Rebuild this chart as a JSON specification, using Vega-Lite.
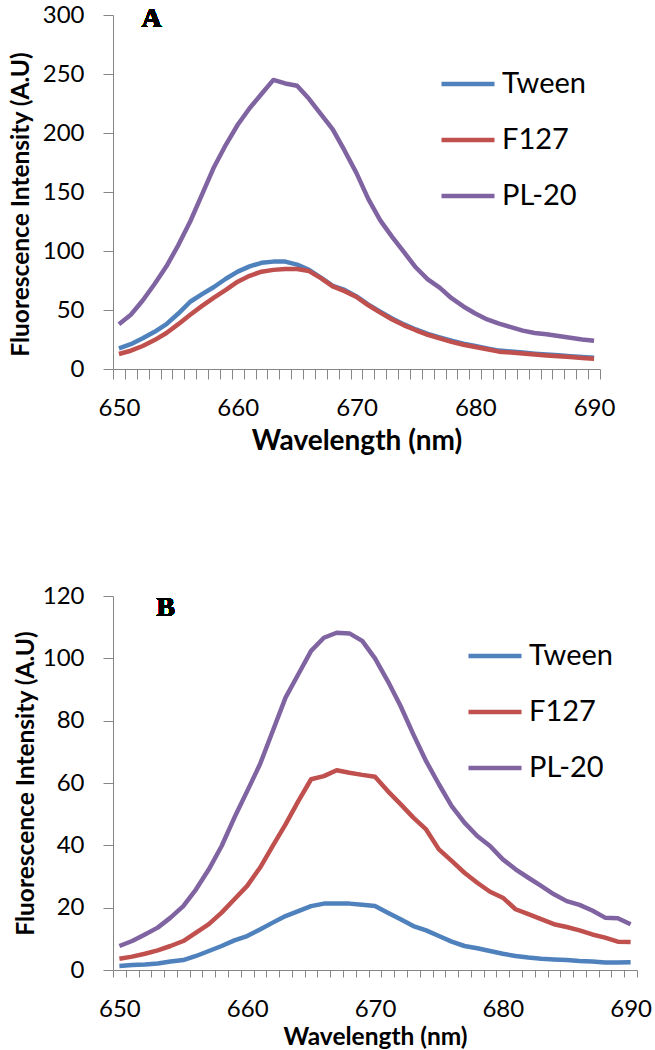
{
  "$schema": "https://vega.github.io/schema/vega-lite/v6.json",
  "padding": {"left": 8, "top": 3, "right": 0, "bottom": 0},
  "background": "white",
  "spacing": 129,
  "resolve": {"legend": {"color": "independent"}, "scale": {"x": "independent", "y": "independent", "color": "independent"}},
  "datasets": {
    "a": [
      {"wl": 650, "Tween": 17.5, "F127": 12.7, "PL-20": 38},
      {"wl": 651, "Tween": 21, "F127": 15.5, "PL-20": 46},
      {"wl": 652, "Tween": 26, "F127": 19.5, "PL-20": 58},
      {"wl": 653, "Tween": 31.5, "F127": 24.5, "PL-20": 72},
      {"wl": 654, "Tween": 38, "F127": 30.5, "PL-20": 87},
      {"wl": 655, "Tween": 47, "F127": 38, "PL-20": 105},
      {"wl": 656, "Tween": 57, "F127": 46, "PL-20": 125},
      {"wl": 657, "Tween": 63.5, "F127": 53.5, "PL-20": 148},
      {"wl": 658, "Tween": 69.5, "F127": 60.5, "PL-20": 171},
      {"wl": 659, "Tween": 76.5, "F127": 67, "PL-20": 190},
      {"wl": 660, "Tween": 82.5, "F127": 74, "PL-20": 207},
      {"wl": 661, "Tween": 87, "F127": 79, "PL-20": 221},
      {"wl": 662, "Tween": 90, "F127": 82.5, "PL-20": 233},
      {"wl": 663, "Tween": 91, "F127": 84, "PL-20": 245},
      {"wl": 664, "Tween": 91, "F127": 84.7, "PL-20": 242},
      {"wl": 665, "Tween": 88.5, "F127": 84.7, "PL-20": 240},
      {"wl": 666, "Tween": 84, "F127": 83, "PL-20": 229},
      {"wl": 667, "Tween": 77.5, "F127": 77, "PL-20": 216},
      {"wl": 668, "Tween": 70.5, "F127": 70, "PL-20": 203},
      {"wl": 669, "Tween": 67, "F127": 66, "PL-20": 185},
      {"wl": 670, "Tween": 61.5, "F127": 61, "PL-20": 166},
      {"wl": 671, "Tween": 54.5, "F127": 54, "PL-20": 144},
      {"wl": 672, "Tween": 48.5, "F127": 47.8, "PL-20": 126},
      {"wl": 673, "Tween": 42.8, "F127": 42, "PL-20": 112},
      {"wl": 674, "Tween": 37.8, "F127": 37, "PL-20": 99},
      {"wl": 675, "Tween": 33.5, "F127": 32.8, "PL-20": 86},
      {"wl": 676, "Tween": 29.8, "F127": 29, "PL-20": 76},
      {"wl": 677, "Tween": 26.8, "F127": 26, "PL-20": 69},
      {"wl": 678, "Tween": 24, "F127": 23, "PL-20": 60},
      {"wl": 679, "Tween": 21.5, "F127": 20.6, "PL-20": 53},
      {"wl": 680, "Tween": 19.5, "F127": 18.7, "PL-20": 47},
      {"wl": 681, "Tween": 17.5, "F127": 16.7, "PL-20": 42},
      {"wl": 682, "Tween": 15.6, "F127": 14.7, "PL-20": 38.5},
      {"wl": 683, "Tween": 14.8, "F127": 13.9, "PL-20": 35.5},
      {"wl": 684, "Tween": 13.9, "F127": 13.1, "PL-20": 32.5},
      {"wl": 685, "Tween": 13, "F127": 12.2, "PL-20": 30.5},
      {"wl": 686, "Tween": 12.3, "F127": 11.5, "PL-20": 29.5},
      {"wl": 687, "Tween": 11.6, "F127": 10.8, "PL-20": 28},
      {"wl": 688, "Tween": 10.8, "F127": 10.1, "PL-20": 26.5},
      {"wl": 689, "Tween": 10.2, "F127": 9.4, "PL-20": 25},
      {"wl": 690, "Tween": 9.5, "F127": 8.6, "PL-20": 24}
    ],
    "b": [
      {"wl": 650, "Tween": 1.3, "F127": 3.6, "PL-20": 7.7},
      {"wl": 651, "Tween": 1.6, "F127": 4.3, "PL-20": 9.3},
      {"wl": 652, "Tween": 1.8, "F127": 5.2, "PL-20": 11.4},
      {"wl": 653, "Tween": 2.1, "F127": 6.3, "PL-20": 13.6},
      {"wl": 654, "Tween": 2.7, "F127": 7.7, "PL-20": 16.8},
      {"wl": 655, "Tween": 3.2, "F127": 9.3, "PL-20": 20.5},
      {"wl": 656, "Tween": 4.5, "F127": 12, "PL-20": 25.9},
      {"wl": 657, "Tween": 6.1, "F127": 14.7, "PL-20": 32.3},
      {"wl": 658, "Tween": 7.7, "F127": 18.4, "PL-20": 39.8},
      {"wl": 659, "Tween": 9.5, "F127": 22.7, "PL-20": 48.9},
      {"wl": 660, "Tween": 10.9, "F127": 27, "PL-20": 57.4},
      {"wl": 661, "Tween": 13, "F127": 32.8, "PL-20": 66},
      {"wl": 662, "Tween": 15.2, "F127": 39.8, "PL-20": 76.7},
      {"wl": 663, "Tween": 17.3, "F127": 46.7, "PL-20": 87.4},
      {"wl": 664, "Tween": 18.9, "F127": 54.2, "PL-20": 94.9},
      {"wl": 665, "Tween": 20.5, "F127": 61.2, "PL-20": 102.4},
      {"wl": 666, "Tween": 21.3, "F127": 62.2, "PL-20": 106.6},
      {"wl": 667, "Tween": 21.3, "F127": 64.1, "PL-20": 108.2},
      {"wl": 668, "Tween": 21.3, "F127": 63.3, "PL-20": 108},
      {"wl": 669, "Tween": 20.9, "F127": 62.6, "PL-20": 105.6},
      {"wl": 670, "Tween": 20.5, "F127": 62, "PL-20": 100},
      {"wl": 671, "Tween": 18.4, "F127": 57.4, "PL-20": 92.7},
      {"wl": 672, "Tween": 16.3, "F127": 53.2, "PL-20": 84.7},
      {"wl": 673, "Tween": 14.1, "F127": 48.9, "PL-20": 75.6},
      {"wl": 674, "Tween": 12.7, "F127": 45.1, "PL-20": 67},
      {"wl": 675, "Tween": 10.9, "F127": 38.7, "PL-20": 59.6},
      {"wl": 676, "Tween": 9.1, "F127": 35, "PL-20": 52.6},
      {"wl": 677, "Tween": 7.7, "F127": 31.2, "PL-20": 47.3},
      {"wl": 678, "Tween": 7, "F127": 28, "PL-20": 43},
      {"wl": 679, "Tween": 6.1, "F127": 25.1, "PL-20": 39.8},
      {"wl": 680, "Tween": 5.2, "F127": 23.2, "PL-20": 35.5},
      {"wl": 681, "Tween": 4.5, "F127": 19.5, "PL-20": 32.3},
      {"wl": 682, "Tween": 4, "F127": 17.9, "PL-20": 29.6},
      {"wl": 683, "Tween": 3.6, "F127": 16.3, "PL-20": 27},
      {"wl": 684, "Tween": 3.4, "F127": 14.7, "PL-20": 24.3},
      {"wl": 685, "Tween": 3.2, "F127": 13.8, "PL-20": 22.1},
      {"wl": 686, "Tween": 2.9, "F127": 12.7, "PL-20": 20.9},
      {"wl": 687, "Tween": 2.7, "F127": 11.4, "PL-20": 19.1},
      {"wl": 688, "Tween": 2.4, "F127": 10.4, "PL-20": 16.8},
      {"wl": 689, "Tween": 2.4, "F127": 9.1, "PL-20": 16.6},
      {"wl": 690, "Tween": 2.5, "F127": 9, "PL-20": 14.7}
    ]
  },
  "vconcat": [
    {
      "width": 487,
      "height": 354,
      "data": {"name": "a"},
      "transform": [{"fold": ["Tween", "F127", "PL-20"], "as": ["series", "v"]}],
      "layer": [
        {
          "mark": {"type": "line", "strokeWidth": 4.5, "strokeJoin": "round", "strokeCap": "butt"},
          "encoding": {
            "x": {"field": "wl", "type": "ordinal", "sort": "ascending",
              "scale": {"type": "band", "paddingInner": 0, "paddingOuter": 0},
              "axis": {"title": "Wavelength (nm)", "tickBand": "extent", "labelAngle": 0, "labelOverlap": false,
                "labelExpr": "datum.value % 10 === 0 ? datum.label : ''", "titleFontSize": 28, "titlePadding": 7, "labelPadding": 17}},
            "y": {"field": "v", "type": "quantitative",
              "scale": {"domain": [0, 300], "nice": false},
              "axis": {"title": "Fluorescence Intensity (A.U)", "values": [0, 50, 100, 150, 200, 250, 300], "titlePadding": 9, "titleY": 189}},
            "color": {"field": "series", "type": "nominal",
              "scale": {"domain": ["Tween", "F127", "PL-20"], "range": ["#4F81BD", "#C0504D", "#8064A2"]},
              "legend": {"orient": "none", "legendX": 326, "legendY": 40, "title": null}}
          }
        },
        {
          "mark": {"type": "text", "text": "A", "font": "Liberation Serif", "fontWeight": "bold", "fontSize": 28, "baseline": "middle", "align": "center", "dx": -3},
          "encoding": {"x": {"datum": 653, "type": "ordinal"}, "y": {"datum": 297, "type": "quantitative"}}
        }
      ]
    },
    {
      "width": 524,
      "height": 374,
      "data": {"name": "b"},
      "transform": [{"fold": ["Tween", "F127", "PL-20"], "as": ["series", "v"]}],
      "layer": [
        {
          "mark": {"type": "line", "strokeWidth": 4.5, "strokeJoin": "round", "strokeCap": "butt"},
          "encoding": {
            "x": {"field": "wl", "type": "ordinal", "sort": "ascending",
              "scale": {"type": "band", "paddingInner": 0, "paddingOuter": 0},
              "axis": {"title": "Wavelength (nm)", "tickBand": "extent", "labelAngle": 0, "labelOverlap": false,
                "labelExpr": "datum.value % 10 === 0 ? datum.label : ''", "titleFontSize": 24.5, "titlePadding": 4, "tickSize": 7, "labelPadding": 20}},
            "y": {"field": "v", "type": "quantitative",
              "scale": {"domain": [0, 120], "nice": false},
              "axis": {"title": "Fluorescence Intensity (A.U)", "values": [0, 20, 40, 60, 80, 100, 120], "titlePadding": 4}},
            "color": {"field": "series", "type": "nominal",
              "scale": {"domain": ["Tween", "F127", "PL-20"], "range": ["#4F81BD", "#C0504D", "#8064A2"]},
              "legend": {"orient": "none", "legendX": 353, "legendY": 31, "title": null}}
          }
        },
        {
          "mark": {"type": "text", "text": "B", "font": "Liberation Serif", "fontWeight": "bold", "fontSize": 28, "baseline": "middle", "align": "center", "dx": -5},
          "encoding": {"x": {"datum": 654, "type": "ordinal"}, "y": {"datum": 116, "type": "quantitative"}}
        }
      ]
    }
  ],
  "config": {
    "view": {"stroke": null},
    "font": "Lato",
    "axis": {
      "domainColor": "#868686", "tickColor": "#868686", "domainWidth": 1, "tickWidth": 1,
      "labelColor": "#000000", "titleColor": "#000000",
      "labelFont": "Lato", "titleFont": "Lato", "labelFontSize": 24, "titleFontSize": 24.5,
      "titleFontWeight": "bold", "grid": false, "tickSize": 10, "labelPadding": 19
    },
    "legend": {
      "symbolType": "stroke", "symbolSize": 2809, "symbolStrokeWidth": 4.5,
      "labelFont": "Lato", "labelFontSize": 29, "labelColor": "#000000",
      "rowPadding": 12, "labelOffset": 5, "padding": 0
    }
  }
}
